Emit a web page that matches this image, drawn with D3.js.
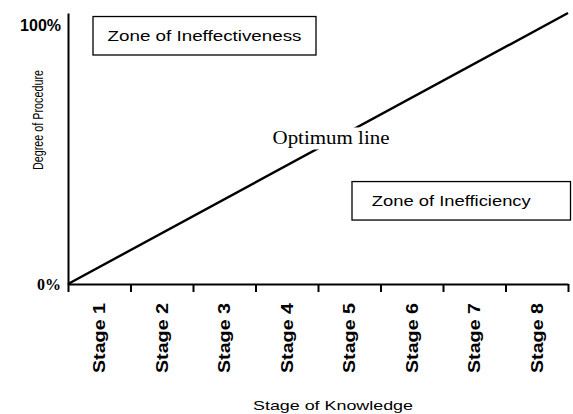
<!DOCTYPE html>
<html>
<head>
<meta charset="utf-8">
<script src="https://cdn.jsdelivr.net/npm/d3@7"></script>
<style>
  body { margin: 0; background: #fff; }
  svg { display: block; }
  .sans { font-family: Arial, "Liberation Sans", sans-serif; }
</style>
</head>
<body>
<svg id="chart" width="573" height="414"></svg>
<script>
// categories along the bottom
const stages = ["Stage 1", "Stage 2", "Stage 3", "Stage 4", "Stage 5", "Stage 6", "Stage 7", "Stage 8"];
// y tick labels (fraction of procedure)
const yTicks = [0, 1];
const yTickLabels = ["0%", "100%"];
// optimum line: knowledge fraction -> procedure fraction
const optimumX = [0, 1];
const optimumY = [0, 1];
// zones: [x0, x1] in knowledge fraction, [y0, y1] in procedure fraction
const zoneNames = ["Zone of Ineffectiveness", "Zone of Inefficiency"];
const zoneX = [[0.05, 0.496], [0.568, 1.005]];
const zoneY = [[0.987, 0.845], [0.378, 0.236]];

const margin = {left: 68, top: 13, right: 5, bottom: 130};
const width = 500, height = 271;

const svg = d3.select("#chart");
const g = svg.append("g")
    .attr("transform", "translate(" + margin.left + "," + margin.top + ")");

const xBand = d3.scaleBand().domain(stages).range([0, width]);
const xLin = d3.scaleLinear().domain([0, 1]).range([0, width]);
const yScale = d3.scaleLinear().domain([0, 1]).range([height, 0]);

// helper: stretch text to a width (bitmap fonts in the original are wide)
function fit(sel, len) {
  return sel.attr("textLength", len).attr("lengthAdjust", "spacingAndGlyphs");
}

// zone boxes
zoneNames.forEach(function(name, i) {
  const x0 = xLin(zoneX[i][0]), x1 = xLin(zoneX[i][1]);
  const y0 = yScale(zoneY[i][0]), y1 = yScale(zoneY[i][1]);
  g.append("rect")
      .attr("x", x0).attr("y", y0)
      .attr("width", x1 - x0).attr("height", y1 - y0)
      .attr("fill", "#fff").attr("stroke", "#000").attr("stroke-width", 1.3);
  const t = g.append("text")
      .attr("class", "sans")
      .attr("x", (x0 + x1) / 2 + (i === 1 ? -10 : 0))
      .attr("y", (y0 + y1) / 2 + 5)
      .attr("text-anchor", "middle")
      .attr("font-size", 14)
      .text(name);
  fit(t, i === 0 ? 194 : 159);
});

// optimum line
const line = d3.line()
    .x(function(d, i) { return xLin(optimumX[i]); })
    .y(function(d, i) { return yScale(optimumY[i]); });
g.append("path")
    .datum(optimumX)
    .attr("d", line)
    .attr("fill", "none")
    .attr("stroke", "#000")
    .attr("stroke-width", 2.4);

// label sitting on the line, white behind it
const lx = 263;
const lbl = g.append("g").attr("transform", "translate(" + lx + "," + yScale(lx / width) + ")");
lbl.append("rect")
    .attr("x", -52).attr("y", -14).attr("width", 112).attr("height", 22)
    .attr("fill", "#fff");
fit(lbl.append("text")
    .attr("text-anchor", "middle")
    .attr("y", 3)
    .attr("font-family", "'Liberation Serif', 'Times New Roman', serif")
    .attr("font-size", 18)
    .text("Optimum line"), 117);

// x axis: ticks on band edges, labels at band centres
const xAxis = g.append("g")
    .attr("transform", "translate(0," + height + ")");
xAxis.call(d3.axisBottom(xLin)
        .tickValues(d3.range(stages.length + 1).map(function(i) { return i / stages.length; }))
        .tickSize(8).tickSizeOuter(0).tickFormat(""));
xAxis.select(".domain").attr("stroke-width", 2);
xAxis.selectAll(".tick line").attr("stroke-width", 2);

const xLabels = g.append("g")
    .attr("transform", "translate(0," + height + ")")
    .call(d3.axisBottom(xBand).tickSize(0));
xLabels.select(".domain").remove();
xLabels.selectAll(".tick text")
    .attr("class", "sans")
    .attr("font-size", 17)
    .attr("font-weight", "bold")
    .attr("fill", "#000")
    .attr("text-anchor", "end")
    .attr("transform", "rotate(-90)")
    .attr("x", -19)
    .attr("y", 0)
    .attr("dy", "0.36em")
    .attr("textLength", 70)
    .attr("lengthAdjust", "spacingAndGlyphs");

// y axis
const yAxis = g.append("g")
    .call(d3.axisLeft(yScale).tickValues(yTicks).tickSize(0)
      .tickFormat(function(d, i) { return yTickLabels[i]; }));
yAxis.select(".domain").attr("stroke-width", 2);
yAxis.selectAll(".tick text")
    .attr("font-size", 16)
    .attr("font-weight", "bold")
    .attr("fill", "#000")
    .attr("x", -7)
    .attr("font-family", function(d) {
      return d === 0 ? "'Liberation Serif', serif" : "Arial, 'Liberation Sans', sans-serif";
    });
yAxis.selectAll(".tick").filter(function(d) { return d === 1; })
    .select("text").attr("dy", "1.1em");

// axis titles
fit(svg.append("text")
    .attr("class", "sans")
    .attr("transform", "translate(43,120) rotate(-90)")
    .attr("text-anchor", "middle")
    .attr("font-size", 14)
    .text("Degree of Procedure"), 100);

fit(svg.append("text")
    .attr("class", "sans")
    .attr("x", 333).attr("y", 410)
    .attr("text-anchor", "middle")
    .attr("font-size", 13)
    .text("Stage of Knowledge"), 160);
</script>
</body>
</html>
